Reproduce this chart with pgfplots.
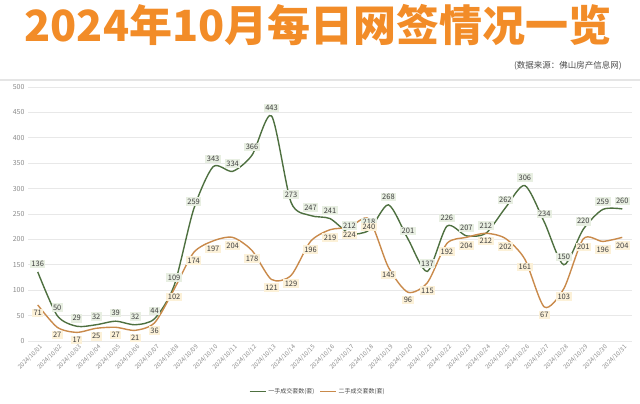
\documentclass[border=0pt]{standalone}
\usepackage{fontspec}
\setmainfont{Noto Sans CJK SC}
\usepackage{pgfplots}
\usepackage{pgfplotstable}
\pgfplotsset{compat=1.18}
\definecolor{titleor}{HTML}{F28C28}
\definecolor{gline}{HTML}{4E7040}
\definecolor{oline}{HTML}{C98A4B}
\definecolor{gfill}{HTML}{E8EFE2}
\definecolor{ofill}{HTML}{FCF1D8}
\definecolor{gridc}{HTML}{E8E8E8}
\definecolor{tickc}{HTML}{8A8A8A}
\pgfplotstableread{
x first second
0 136 71
1 50 27
2 29 17
3 32 25
4 39 27
5 32 21
6 44 36
7 109 102
8 259 174
9 343 197
10 334 204
11 366 178
12 443 121
13 273 129
14 247 196
15 241 219
16 212 224
17 218 240
18 268 145
19 201 96
20 137 115
21 226 192
22 207 204
23 212 212
24 262 202
25 306 161
26 234 67
27 150 103
28 220 201
29 259 196
30 260 204
}\datatable
\begin{document}
\begin{tikzpicture}[x=1pt,y=1pt]
\useasboundingbox (0,0) rectangle (640,404);
\node[font=\fontsize{43}{43}\selectfont\bfseries, text=titleor, inner sep=0pt] at (318,379) {2024年10月每日网签情况一览};
\node[anchor=east, font=\fontsize{8.5}{9}\selectfont, text=black!70, inner sep=0pt] at (622,338) {(数据来源：佛山房产信息网)};
\draw[black!10, line width=1.5pt] (0,324) -- (640,324);
\begin{axis}[
  at={(28pt,63pt)}, anchor=south west,
  scale only axis, width=604pt, height=254pt,
  xmin=-0.5, xmax=30.5, ymin=0, ymax=500,
  clip=false,
  axis line style={draw=none},
  ytick={0,50,...,500},
  ymajorgrids, major grid style={gridc, line width=0.6pt},
  major tick length=0pt,
  /pgf/number format/assume math mode=true,
  yticklabel style={font=\fontsize{7}{7}\selectfont, text=tickc},
  xtick={0,...,30},
  xticklabels={2024/10/01,2024/10/02,2024/10/03,2024/10/04,2024/10/05,2024/10/06,2024/10/07,2024/10/08,2024/10/09,2024/10/10,2024/10/11,2024/10/12,2024/10/13,2024/10/14,2024/10/15,2024/10/16,2024/10/17,2024/10/18,2024/10/19,2024/10/20,2024/10/21,2024/10/22,2024/10/23,2024/10/24,2024/10/25,2024/10/26,2024/10/27,2024/10/28,2024/10/29,2024/10/30,2024/10/31},
  xticklabel style={rotate=45, anchor=north east, font=\fontsize{6}{6}\selectfont, text=tickc, inner sep=1pt, yshift=-2pt},
  legend style={at={(0.48,-0.2)}, anchor=center, draw=none, fill=none, legend columns=2, font=\fontsize{6}{6}\selectfont, text=black!70, /tikz/every even column/.append style={column sep=3pt}},
  legend image code/.code={\draw[#1, line width=1.3pt] (0pt,0pt) -- (16pt,0pt);},
]
\addplot[gline, line width=1.4pt, smooth, tension=0.45,
  nodes near coords,
  every node near coord/.append style={font=\fontsize{7.5}{7.5}\selectfont, text=black!75, fill=gfill, inner sep=1.5pt, anchor=south, yshift=3pt}]
  table[x=x, y=first] {\datatable};
\addlegendentry{一手成交套数(套)}
\addplot[oline, line width=1.4pt, smooth, tension=0.45,
  nodes near coords,
  every node near coord/.append style={font=\fontsize{7.5}{7.5}\selectfont, text=black!75, fill=ofill, inner sep=1.5pt, anchor=north, yshift=-3pt}]
  table[x=x, y=second] {\datatable};
\addlegendentry{二手成交套数(套)}
\end{axis}
\end{tikzpicture}
\end{document}
